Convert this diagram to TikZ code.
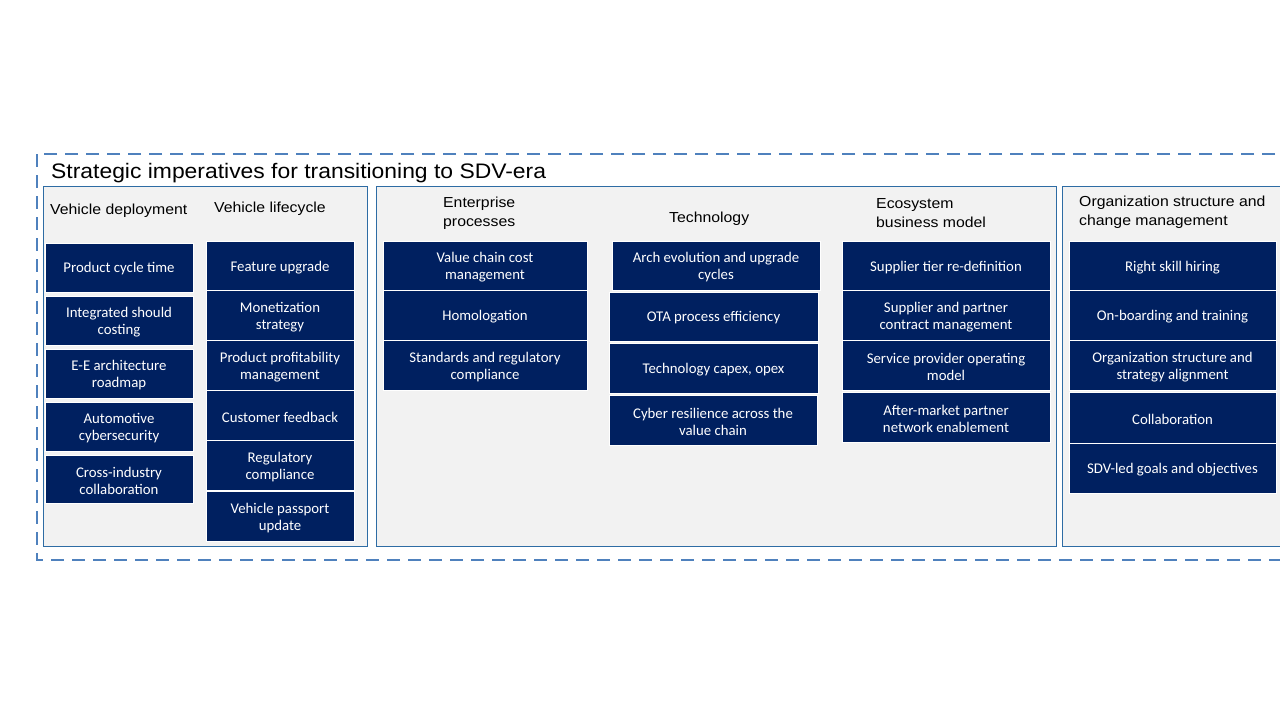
\documentclass[tikz,border=0pt]{standalone}
\usepackage{fontspec}
\newfontfamily\itemfont{Carlito}
\newfontfamily\headfont[FakeStretch=1.09]{Liberation Sans}
\definecolor{navy}{HTML}{002060}
\definecolor{panelgray}{HTML}{F2F2F2}
\definecolor{panelline}{HTML}{2E6CA4}
\definecolor{dashblue}{HTML}{4F81BD}
\tikzset{
  item/.style={fill=navy, draw=white, line width=0.9pt,
    inner sep=0pt, outer sep=0pt},
  itemtext/.style={text=white, align=center, inner sep=0pt,
    font=\itemfont\fontsize{14.8}{17}\selectfont},
  panel/.style={fill=panelgray, draw=panelline, line width=1pt},
  head/.style={inner sep=0pt, anchor=west, align=left, text=black,
    font=\headfont\fontsize{14.5}{19}\selectfont},
  titletext/.style={inner sep=0pt, anchor=west, text=black,
    font=\headfont\fontsize{21}{24}\selectfont},
  outerdash/.style={draw=dashblue, line width=2.8pt, dash pattern=on 13pt off 8pt}
}
\newcommand\ibox[6]{%
  \node[item, minimum width={(#4-#2)*1pt}, minimum height={(#5-#3)*1pt}]
    (#1) at ({(#2+#4)/2},{(#3+#5)/2}) {};
  \node[itemtext] (#1t) at ([yshift=-1.5pt]#1.center) {#6};}
\begin{document}
\begin{tikzpicture}[x=1pt,y=-1pt]
\useasboundingbox (0,0) rectangle (1280,720);
\clip (0,0) rectangle (1280,720);
\fill[white] (0,0) rectangle (1280,720);
% outer dashed frame
\draw[outerdash] (37,154) rectangle (1300,560);
\node[titletext] (title) at (51,173) {Strategic imperatives for transitioning to SDV-era};
% panels
\draw[panel] (43.5,186) rectangle (367,546);
\draw[panel] (376.5,186) rectangle (1056.5,546);
\draw[panel] (1062,186) rectangle (1300,546);
% headings
\node[head] (hvd) at (50,211) {Vehicle deployment};
\node[head] (hvl) at (214,209) {Vehicle lifecycle};
\node[head] (hep) at (443,213) {Enterprise\\processes};
\node[head] (hte) at (669,219) {Technology};
\node[head] (hec) at (876,213) {Ecosystem\\business model};
\node[head] (hor) at (1079,212) {Organization structure and\\change management};
% Vehicle deployment
\ibox{p1}{45}{243}{193}{292}{Product cycle time}
\ibox{p2}{45}{296}{193}{345}{Integrated should\\costing}
\ibox{p3}{45}{349}{193}{398}{E-E architecture\\roadmap}
\ibox{p4}{45}{402}{193}{451}{Automotive\\cybersecurity}
\ibox{p5}{45}{455}{193}{503}{Cross-industry\\collaboration}
% Vehicle lifecycle
\ibox{l1}{206}{241}{354}{290.5}{Feature upgrade}
\ibox{l2}{206}{290.5}{354}{340.5}{Monetization\\strategy}
\ibox{l3}{206}{340.5}{354}{390.5}{Product profitability\\management}
\ibox{l4}{206}{390.5}{354}{440.5}{Customer feedback}
\ibox{l5}{206}{440.5}{354}{490.5}{Regulatory\\compliance}
\ibox{l6}{206}{491.5}{354}{541}{Vehicle passport\\update}
% Enterprise processes
\ibox{e1}{383}{241}{587}{290.5}{Value chain cost\\management}
\ibox{e2}{383}{290.5}{587}{340.5}{Homologation}
\ibox{e3}{383}{340.5}{587}{390}{Standards and regulatory\\compliance}
% Technology
\ibox{t1}{612}{241}{820}{290}{Arch evolution and upgrade\\cycles}
\ibox{t2}{609}{292}{818}{341}{OTA process efficiency}
\ibox{t3}{609}{343}{818}{393}{Technology capex, opex}
\ibox{t4}{609}{395}{817}{445}{Cyber resilience across the\\value chain}
% Ecosystem business model
\ibox{c1}{842}{241}{1050}{290.5}{Supplier tier re-definition}
\ibox{c2}{842}{290.5}{1050}{340.5}{Supplier and partner\\contract management}
\ibox{c3}{842}{340.5}{1050}{390.5}{Service provider operating\\model}
\ibox{c4}{842}{392}{1050}{442}{After-market partner\\network enablement}
% Organization
\ibox{o1}{1069}{241}{1276}{290.5}{Right skill hiring}
\ibox{o2}{1069}{290.5}{1276}{340.5}{On-boarding and training}
\ibox{o3}{1069}{340.5}{1276}{390}{Organization structure and\\strategy alignment}
\ibox{o4}{1069}{392.5}{1276}{443.5}{Collaboration}
\ibox{o5}{1069}{443.5}{1276}{493}{SDV-led goals and objectives}
\end{tikzpicture}
\end{document}
